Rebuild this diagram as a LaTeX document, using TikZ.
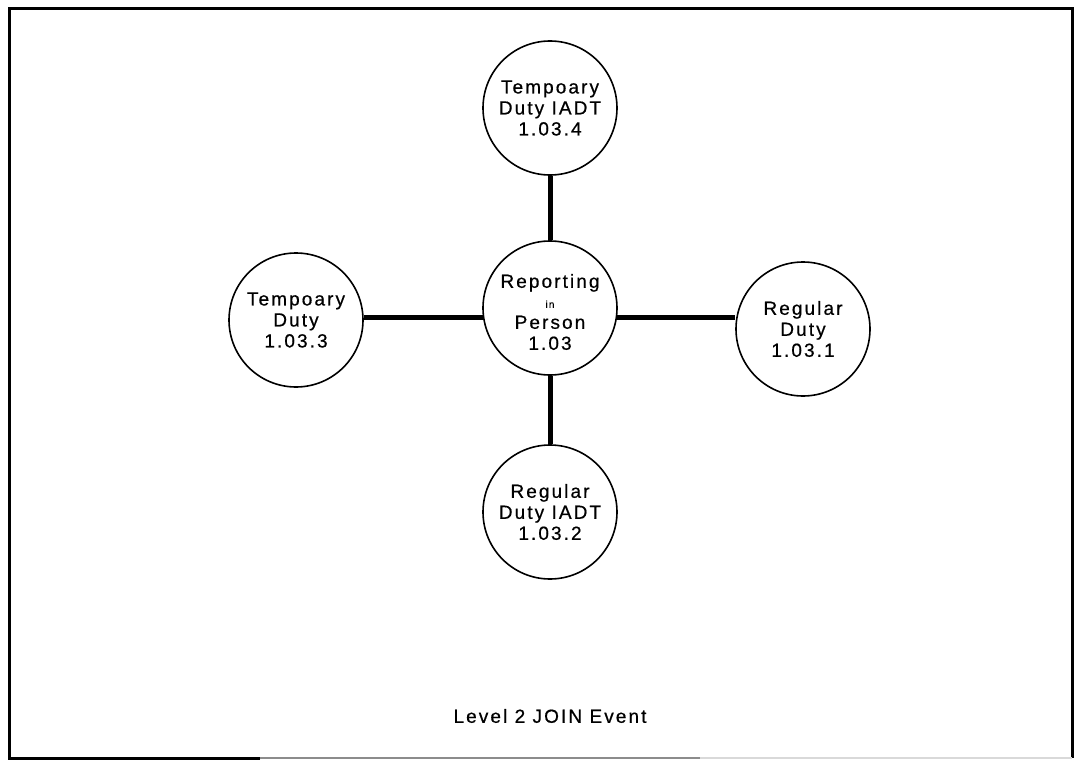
\documentclass[tikz,border=0pt]{standalone}
\usepackage{fontspec}
\setmainfont{Liberation Sans}[LetterSpace=11,FakeBold=0.6]
\begin{document}
\begin{tikzpicture}[x=1pt,y=-1pt,
  bubble/.style={circle,draw,line width=1.6pt,minimum size=134pt,inner sep=0pt,
    align=center,font=\fontsize{19}{21}\selectfont},
  txt/.style={align=center,inner sep=0pt,font=\fontsize{19}{21}\selectfont},
  link/.style={line width=5pt},
  frame/.style={line width=3pt}]
\useasboundingbox (0,0) rectangle (1085,776);
\draw[frame] (260,758) -- (9,758) -- (9,9) -- (1072,9) -- (1072,758);
\draw[line width=2pt,black!45] (260,758) -- (700,758);
\draw[line width=1.5pt,black!15] (700,758) -- (1072,758);
\node[bubble] (C) at (550,308) {};
\node[txt] (Ct) at (550,312) {Reporting\\[-1pt]{\fontsize{10}{10}\selectfont in}\\[0pt]Person\\1.03};
\node[bubble] (T) at (550,108) {Tempoary\\Duty IADT\\1.03.4};
\node[bubble] (L) at (296,320) {Tempoary\\Duty\\1.03.3};
\node[bubble] (R) at (803,329) {Regular\\Duty\\1.03.1};
\node[bubble] (B) at (550,512) {Regular\\Duty IADT\\1.03.2};
\draw[link] (T.south) -- (C.north);
\draw[link] (C.south) -- (B.north);
\draw[link] (C.188) -- (L.east |- C.188);
\draw[link] (C.-8) -- (R.west |- C.-8);
\node[txt] (cap) at (550,716) {Level 2 JOIN Event};
\end{tikzpicture}
\end{document}
